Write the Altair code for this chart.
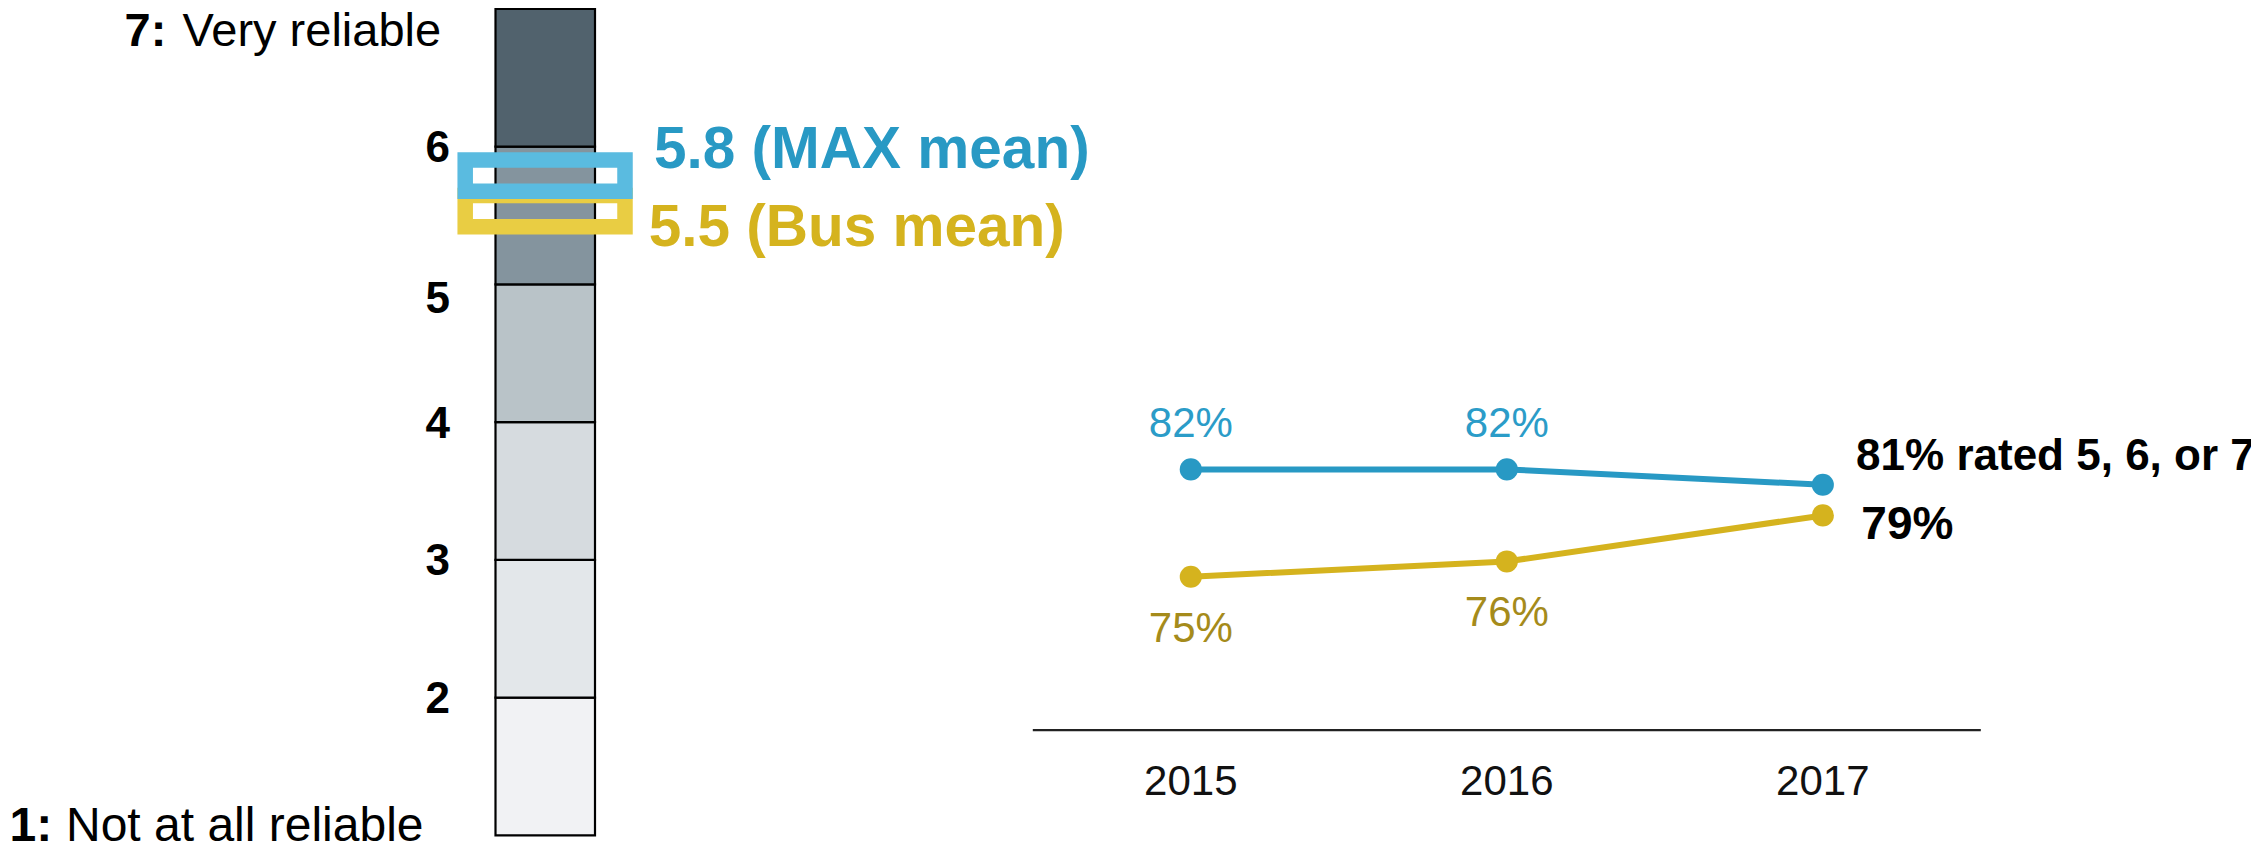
import altair as alt
import pandas as pd

FONT = "Liberation Sans"
W, H = 2243, 835

# ---------------- data ----------------
# reliability scale (left bar)
scale_lo = [1, 2, 3, 4, 5, 6]
scale_hi = [2, 3, 4, 5, 6, 7]
seg_colors = ["#f1f2f4", "#e3e7ea", "#d6dbdf", "#b9c3c8", "#84949e", "#51626d"]
tick_values = [6, 4, 3, 2]
tick_values_low = [5]
top_value, top_words = 7, "Very reliable"
bottom_value, bottom_words = 1, "Not at all reliable"
mean_names = ["MAX", "Bus"]
mean_values = [5.8, 5.5]

# share rating 5, 6 or 7 (right lines)
years = [2015, 2016, 2017]
max_pct = [82, 82, 81]
bus_pct = [75, 76, 79]
axis_min = 65

# ---------------- colours ----------------
BLUE_LINE, BLUE_BOX, BLUE_LABEL = "#2899c4", "#5abbe0", "#2b9cc8"
GOLD_LINE, GOLD_BOX, GOLD_LABEL = "#d5b31e", "#e9cd43", "#a58b1b"

# ---------------- tables ----------------
seg_df = pd.DataFrame({"lo": scale_lo, "hi": scale_hi})
tick_df = pd.DataFrame({"v": tick_values})
tick_low_df = pd.DataFrame({"v": tick_values_low})
ends_df = pd.DataFrame({"v": [top_value, bottom_value],
                        "words": [top_words, bottom_words]})
mean_df = pd.DataFrame({"name": mean_names, "mean": mean_values})
line_df = pd.DataFrame({
    "year": years * 2,
    "series": ["MAX"] * len(years) + ["Bus"] * len(years),
    "pct": max_pct + bus_pct,
})
year_df = pd.DataFrame({"year": years})

# ---------------- scales ----------------
lx = alt.Scale(domain=[-4.8995, 17.6432], nice=False, zero=False)
ly = alt.Scale(domain=[0.944, 7.0073], nice=False, zero=False)
rx = alt.Scale(domain=[2011.257, 2018.355], nice=False, zero=False)
ry = alt.Scale(domain=[57.65, 112.07], nice=False, zero=False)

BAR_L, BAR_R = 0, 1


def bx(v):
    return alt.XDatum(v, type="quantitative", scale=lx, axis=None)


LY = alt.Y("v:Q", scale=ly, axis=None)

# ---------------- left panel ----------------
segments = alt.Chart(seg_df).mark_rect(stroke="black", strokeWidth=2.2).encode(
    x=bx(BAR_L), x2=alt.datum(BAR_R),
    y=alt.Y("lo:Q", scale=ly, axis=None), y2=alt.Y2("hi"),
    color=alt.Color("lo:O", scale=alt.Scale(domain=scale_lo, range=seg_colors), legend=None),
)

txt = dict(font=FONT, baseline="alphabetic")

ticks = alt.Chart(tick_df).mark_text(
    align="right", dx=-45.5, dy=15.5, fontSize=44, fontWeight="bold", color="black", **txt
).encode(x=bx(BAR_L), y=LY, text=alt.Text("v:Q", format="d"))

ticks_low = alt.Chart(tick_low_df).mark_text(
    align="right", dx=-45.5, dy=28.5, fontSize=44, fontWeight="bold", color="black", **txt
).encode(x=bx(BAR_L), y=LY, text=alt.Text("v:Q", format="d"))

top_num = alt.Chart(ends_df).transform_filter(alt.datum.v == top_value).transform_calculate(
    num="format(datum.v, 'd') + ':'"
).mark_text(align="left", dx=-371, dy=37, fontSize=47, fontWeight="bold", color="black", **txt).encode(
    x=bx(BAR_L), y=LY, text="num:N")
top_txt = alt.Chart(ends_df).transform_filter(alt.datum.v == top_value).mark_text(
    align="left", dx=-313, dy=37, fontSize=47, color="black", **txt).encode(
    x=bx(BAR_L), y=LY, text="words:N")
bot_num = alt.Chart(ends_df).transform_filter(alt.datum.v == bottom_value).transform_calculate(
    num="format(datum.v, 'd') + ':'"
).mark_text(align="left", dx=-486, dy=5.7, fontSize=48, fontWeight="bold", color="black", **txt).encode(
    x=bx(BAR_L), y=LY, text="num:N")
bot_txt = alt.Chart(ends_df).transform_filter(alt.datum.v == bottom_value).mark_text(
    align="left", dx=-429.5, dy=5.7, fontSize=48, color="black", **txt).encode(
    x=bx(BAR_L), y=LY, text="words:N")


def mean_box(name, color, yoff, y2off):
    return alt.Chart(mean_df).transform_filter(alt.datum.name == name).mark_rect(
        fill="transparent", stroke=color, strokeWidth=15.5,
        xOffset=-30.3, x2Offset=30, yOffset=yoff, y2Offset=y2off,
    ).encode(x=bx(BAR_L), x2=alt.datum(BAR_R),
             y=alt.Y("mean:Q", scale=ly, axis=None), y2=alt.Y2("mean"))


def mean_text(name, color, dx, dy):
    return alt.Chart(mean_df).transform_filter(alt.datum.name == name).transform_calculate(
        lab="format(datum.mean, '.1f') + ' (' + datum.name + ' mean)'"
    ).mark_text(align="left", dx=dx, dy=dy, fontSize=58.5, fontWeight="bold", color=color, **txt).encode(
        x=bx(BAR_R), y=alt.Y("mean:Q", scale=ly, axis=None), text="lab:N")


left = alt.layer(
    segments,
    mean_box("Bus", GOLD_BOX, -20.1, 11.2),
    mean_box("MAX", BLUE_BOX, -14.3, 16.9),
    mean_text("MAX", BLUE_LINE, 59, -6),
    mean_text("Bus", GOLD_LINE, 53.7, 30),
    ticks, ticks_low, top_num, top_txt, bot_num, bot_txt,
)

# ---------------- right panel ----------------
RX = alt.X("year:Q", scale=rx, axis=None)
RY = alt.Y("pct:Q", scale=ry, axis=None)
series_color = alt.Color("series:N", scale=alt.Scale(domain=["MAX", "Bus"], range=[BLUE_LINE, GOLD_LINE]),
                         legend=None)

axis_line = alt.Chart(year_df).transform_aggregate(lo="min(year)", hi="max(year)").transform_calculate(
    a="datum.lo - 0.5", b="datum.hi + 0.5"
).mark_rule(color="#222222", strokeWidth=2.2).encode(
    x=alt.X("a:Q", scale=rx, axis=None), x2="b:Q",
    y=alt.YDatum(axis_min, type="quantitative", scale=ry, axis=None))

year_labels = alt.Chart(year_df).mark_text(
    align="center", dy=64.7, fontSize=42, color="#111111", **txt
).encode(x=RX, y=alt.YDatum(axis_min, type="quantitative", scale=ry, axis=None),
         text=alt.Text("year:Q", format="d"))

lines = alt.Chart(line_df).mark_line(strokeWidth=6).encode(x=RX, y=RY, color=series_color)
points = alt.Chart(line_df).mark_circle(size=490, opacity=1).encode(x=RX, y=RY, color=series_color)

pct_calc = "format(datum.pct, 'd') + '%'"
max_labels = alt.Chart(line_df).transform_filter(
    (alt.datum.series == "MAX") & (alt.datum.year < max(years))
).transform_calculate(lab=pct_calc).mark_text(
    align="center", dy=-32.6, fontSize=42, color=BLUE_LABEL, **txt
).encode(x=RX, y=RY, text="lab:N")
bus_labels = alt.Chart(line_df).transform_filter(
    (alt.datum.series == "Bus") & (alt.datum.year < max(years))
).transform_calculate(lab=pct_calc).mark_text(
    align="center", dy=65, fontSize=42, color=GOLD_LABEL, **txt
).encode(x=RX, y=RY, text="lab:N")
max_last = alt.Chart(line_df).transform_filter(
    (alt.datum.series == "MAX") & (alt.datum.year == max(years))
).transform_calculate(lab=pct_calc + " + ' rated 5, 6, or 7'").mark_text(
    align="left", dx=33.3, dy=-15, fontSize=44, fontWeight="bold", color="black", **txt
).encode(x=RX, y=RY, text="lab:N")
bus_last = alt.Chart(line_df).transform_filter(
    (alt.datum.series == "Bus") & (alt.datum.year == max(years))
).transform_calculate(lab=pct_calc).mark_text(
    align="left", dx=38.5, dy=24, fontSize=46, fontWeight="bold", color="black", **txt
).encode(x=RX, y=RY, text="lab:N")

right = alt.layer(axis_line, year_labels, lines, points, max_labels, bus_labels, max_last, bus_last)

chart = alt.layer(left, right).resolve_scale(
    x="independent", y="independent", color="independent"
).properties(
    width=W, height=H, padding=0, autosize=alt.AutoSizeParams(type="none"), background="white"
).configure_view(strokeWidth=0).configure_text(font=FONT)

chart.save("out.html", embed_options={"renderer": "svg", "actions": False})
